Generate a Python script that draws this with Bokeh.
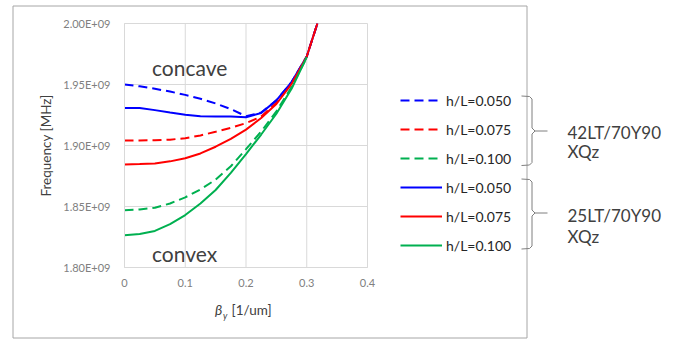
from bokeh.plotting import figure
from bokeh.models import (Range1d, FixedTicker, CustomJSTickFormatter, Legend, LegendItem)
from bokeh.core.properties import value
from bokeh.embed import file_html
from bokeh.resources import INLINE

# ---------------- data (frequency in units of 1E+09 Hz) ----------------
beta = [0, 0.025, 0.05, 0.075, 0.1, 0.125, 0.15, 0.175, 0.2, 0.225, 0.25, 0.275, 0.3]
beta_top = beta + [0.3175]          # curves that leave the chart through its top edge

# 42LT/70Y90 XQz (dashed)
f42_h050 = [1.9500, 1.9485, 1.9465, 1.9442, 1.9415, 1.9383, 1.9345, 1.9298, 1.9240, 1.9270, 1.9370, 1.9520, 1.9730, 2.0000]
f42_h075 = [1.9042, 1.9042, 1.9043, 1.9048, 1.9060, 1.9082, 1.9113, 1.9145, 1.9183, 1.9237, 1.9350, 1.9510, 1.9730, 2.0000]
f42_h100 = [1.8470, 1.8475, 1.8490, 1.8525, 1.8575, 1.8640, 1.8720, 1.8830, 1.8970, 1.9115, 1.9280, 1.9480, 1.9720]

# 25LT/70Y90 XQz (solid)
f25_h050 = [1.9308, 1.9308, 1.9290, 1.9270, 1.9252, 1.9240, 1.9238, 1.9237, 1.9232, 1.9267, 1.9370, 1.9520, 1.9730, 2.0000]
f25_h075 = [1.8845, 1.8848, 1.8853, 1.8870, 1.8895, 1.8935, 1.8990, 1.9055, 1.9130, 1.9225, 1.9340, 1.9505, 1.9730, 2.0000]
f25_h100 = [1.8265, 1.8275, 1.8300, 1.8355, 1.8430, 1.8525, 1.8635, 1.8775, 1.8930, 1.9090, 1.9260, 1.9465, 1.9725]

series = [
    ("h/L=0.050", f42_h050, "#0000FF", "9 5"),
    ("h/L=0.075", f42_h075, "#FF0000", "9 5"),
    ("h/L=0.100", f42_h100, "#00B050", "9 5"),
    ("h/L=0.050", f25_h050, "#0000FF", "solid"),
    ("h/L=0.075", f25_h075, "#FF0000", "solid"),
    ("h/L=0.100", f25_h100, "#00B050", "solid"),
]
group_labels = ["42LT/70Y90", "XQz", "25LT/70Y90", "XQz"]

x_ticks = [0, 0.1, 0.2, 0.3, 0.4]
y_ticks = [1.80e9, 1.85e9, 1.90e9, 1.95e9, 2.00e9]
X0, X1 = 0.0, 0.4
Y0, Y1 = 1.80e9, 2.00e9

FONT = "Lato"
TXT = "#404040"
GRID = "#d9d9d9"
W, H = 675, 339
FL, FR, FT, FB = 124, 367, 23, 267   # plot-area edges on the canvas (px)

# The figure frame covers the whole canvas; ranges are extended so that the
# data window [X0,X1]x[Y0,Y1] falls on the plot area, axes use fixed locations.
kx = (X1 - X0) / (FR - FL)
ky = (Y1 - Y0) / (FB - FT)
x_range = Range1d(X0 - FL * kx, X1 + (W - FR) * kx)
y_range = Range1d(Y0 - (H - FB) * ky, Y1 + FT * ky)


def mid(baseline, size):
    return baseline - 0.387 * size


p = figure(width=W, height=H, output_backend="svg", toolbar_location=None,
           x_range=x_range, y_range=y_range, min_border=0)
p.title.visible = False
p.background_fill_color = "white"
p.border_fill_color = "white"
p.outline_line_color = None
p.grid.visible = False
p.extra_x_ranges = {"px": Range1d(0, W)}
p.extra_y_ranges = {"py": Range1d(H, 0)}

# axes at fixed locations (zero panel size)
p.xaxis.fixed_location = Y0
p.yaxis.fixed_location = X0
p.xaxis.bounds = (X0, X1)
p.yaxis.bounds = (Y0, Y1)
p.xaxis.ticker = FixedTicker(ticks=x_ticks)
p.yaxis.ticker = FixedTicker(ticks=y_ticks)
p.xaxis.formatter = CustomJSTickFormatter(code="return tick == 0 ? '0' : tick.toFixed(1);")
p.yaxis.formatter = CustomJSTickFormatter(code="return (tick/1e9).toFixed(2) + 'E+09';")
for ax in (p.xaxis[0], p.yaxis[0]):
    ax.axis_line_color = GRID
    ax.major_tick_line_color = None
    ax.minor_tick_line_color = None
    ax.major_tick_out = 0
    ax.major_tick_in = 0
    ax.major_label_text_font = FONT
    ax.major_label_text_font_size = "11px"
    ax.major_label_text_color = "#808080"
p.xaxis.major_label_standoff = 11
p.yaxis.major_label_standoff = 14
p.yaxis.axis_label = "Frequency [MHz]"
p.yaxis.axis_label_text_font = FONT
p.yaxis.axis_label_text_font_size = "13.5px"
p.yaxis.axis_label_text_font_style = "normal"
p.yaxis.axis_label_text_color = TXT
p.yaxis.axis_label_standoff = 6

# concave / convex (under the grid lines, as in the reference)
p.text(x=[151.5, 151.5], y=[mid(75, 21), mid(261, 21)], text=["concave", "convex"],
       x_range_name="px", y_range_name="py", text_font=value(FONT),
       text_font_size=value("21px"), text_color=TXT, text_baseline="middle")

# grid lines and plot-area outline in data units
p.segment(x0=x_ticks, y0=[Y0] * len(x_ticks), x1=x_ticks, y1=[Y1] * len(x_ticks),
          line_color=GRID, line_width=1)
p.segment(x0=[X0] * len(y_ticks), y0=y_ticks, x1=[X1] * len(y_ticks), y1=y_ticks,
          line_color=GRID, line_width=1)

# data lines
items = []
for label, ys, color, dash in series:
    xs = beta_top if len(ys) == len(beta_top) else beta
    r = p.line(xs, [y * 1e9 for y in ys], line_color=color, line_width=2, line_dash=dash)
    items.append(LegendItem(label=label, renderers=[r]))

legend = Legend(items=items, location=(400, H - 255),
                glyph_width=42, glyph_height=20, label_height=20, spacing=9,
                padding=0, margin=0, label_standoff=4,
                label_text_font=FONT, label_text_font_size="14px",
                label_text_color="#262626",
                border_line_alpha=0, background_fill_alpha=0)
p.add_layout(legend)

# outer frame
p.quad(left=[12.5], right=[526.5], top=[5.5], bottom=[337.5], x_range_name="px",
       y_range_name="py", fill_color=None, line_color="#a6a6a6", line_width=1)

# x-axis title: beta_y [1/um]
p.text(x=[214.5], y=[mid(314.5, 14)], text=["β"], x_range_name="px", y_range_name="py",
       text_font=value(FONT), text_font_size=value("14px"), text_font_style="italic",
       text_color=TXT, text_baseline="middle")
p.text(x=[222.5], y=[mid(318, 9)], text=["y"], x_range_name="px", y_range_name="py",
       text_font=value(FONT), text_font_size=value("9px"), text_font_style="italic",
       text_color=TXT, text_baseline="middle")
p.text(x=[231], y=[mid(314.5, 13.5)], text=["[1/um]"], x_range_name="px", y_range_name="py",
       text_font=value(FONT), text_font_size=value("13.5px"), text_color=TXT,
       text_baseline="middle")


# braces
def brace(y0, y1, ym):
    xs = [521, 529, 531.5, 531.5, 534.5, 531.5, 531.5, 529, 521]
    ys = [y0, y0 + 0.5, y0 + 3, ym - 3, ym, ym + 3, y1 - 3, y1 - 0.5, y1]
    return xs, ys


b1 = brace(95.5, 165, 130.5)
b2 = brace(178.5, 248.5, 212.5)
p.multi_line(xs=[b1[0], b2[0], [534.5, 547], [534.5, 547]],
             ys=[b1[1], b2[1], [130.5, 130.5], [212.5, 212.5]],
             x_range_name="px", y_range_name="py", line_color="#7f7f7f", line_width=1)
p.text(x=[567] * 4, y=[mid(b, 17) for b in (138.5, 157.5, 221.5, 242.5)], text=group_labels,
       x_range_name="px", y_range_name="py", text_font=value(FONT),
       text_font_size=value("17px"), text_color=TXT, text_baseline="middle")

open("out.html", "w").write(file_html(p, INLINE))
